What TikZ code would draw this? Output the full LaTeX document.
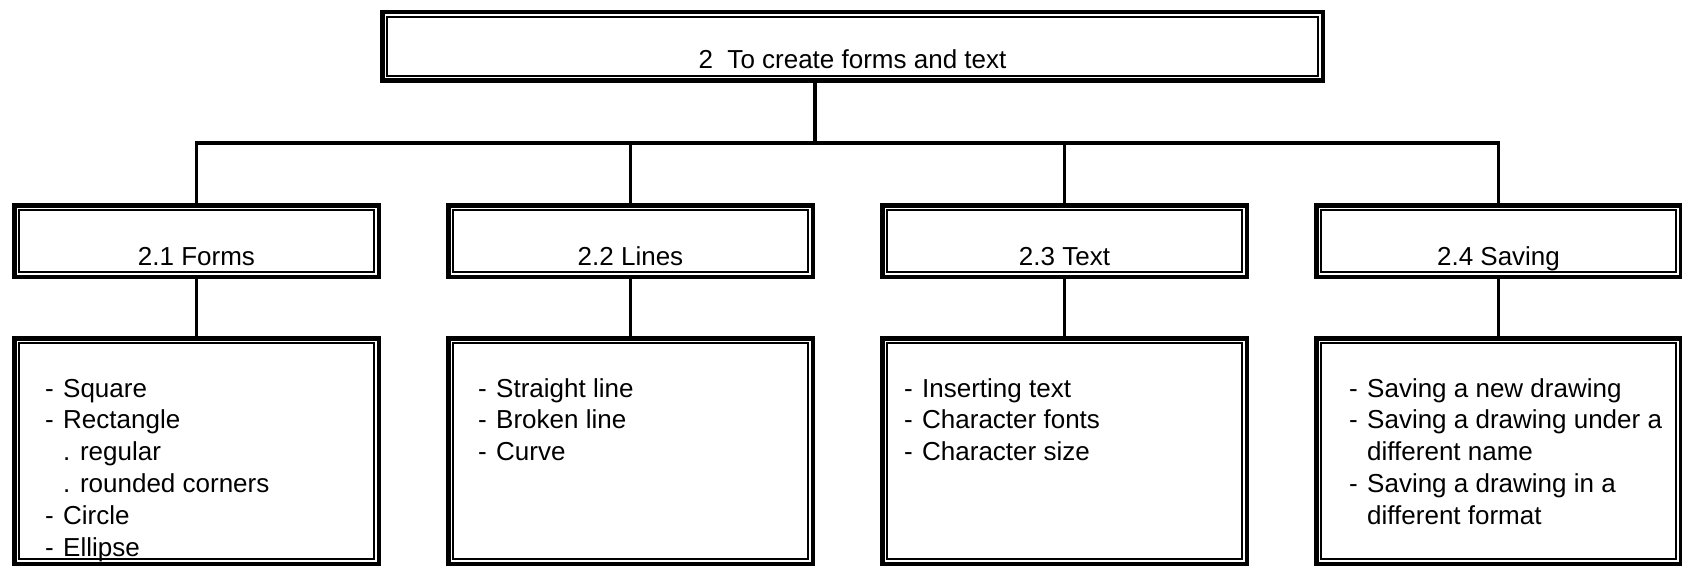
\documentclass[tikz,border=0pt]{standalone}
\usepackage{fontspec}
\setmainfont{Liberation Sans}
\usetikzlibrary{calc}
\newcommand\dashline[1]{\hbox{\makebox[18pt][l]{-}#1}}
\newcommand\contline[1]{\hbox{\kern18pt#1}}
\newcommand\boxlist[1]{\vtop{\baselineskip=31.8pt\lineskiplimit=-20pt\lineskip=0pt #1}}
\tikzset{
  outerframe/.style={draw, line width=4.5pt, inner sep=0pt, outer sep=0pt},
  innerframe/.style={draw, line width=2pt},
  conn/.style={line width=3.2pt, line join=miter},
  lbl/.style={inner sep=0pt, anchor=base, font=\fontsize{26pt}{32pt}\selectfont},
  lst/.style={inner sep=0pt, anchor=base west, font=\fontsize{26pt}{32pt}\selectfont}
}
\newcommand\dframe[5]{%
  \node[outerframe, minimum width={(#4-#2-4.5)*1pt}, minimum height={(#5-#3-4.5)*1pt}] (#1) at ({(#2+#4)/2},{(#3+#5)/2}) {};
  \draw[innerframe] ($(#1.north west)+(4.75,4.75)$) rectangle ($(#1.south east)+(-4.75,-4.75)$);
}
\begin{document}
\begin{tikzpicture}[x=1pt,y=-1pt]
\useasboundingbox (0,0) rectangle (1682,566);
\clip (0,0) rectangle (1682,566);
% frames
\dframe{top}{380}{9.5}{1325}{82.5}
\dframe{fa}{12}{203}{381}{279}
\dframe{fb}{446}{203}{815}{279}
\dframe{fc}{880}{203}{1249}{279}
\dframe{fd}{1314}{203}{1683}{279}
\dframe{la}{12}{336}{381}{566}
\dframe{lb}{446}{336}{815}{566}
\dframe{lc}{880}{336}{1249}{566}
\dframe{ld}{1314}{336}{1683}{566}
% connectors
\coordinate (bus) at (815,143);
\draw[conn] (bus |- top.south) -- (bus);
\draw[conn] (fa.north) -- (fa.north |- bus) -- (fd.north |- bus) -- (fd.north);
\draw[conn] (fb.north) -- (fb.north |- bus);
\draw[conn] (fc.north) -- (fc.north |- bus);
\draw[conn] (fa.south) -- (la.north);
\draw[conn] (fb.south) -- (lb.north);
\draw[conn] (fc.south) -- (lc.north);
\draw[conn] (fd.south) -- (ld.north);
% labels
\node[lbl] (ttop) at (top.center |- 0,68.5) {2\ \ To create forms and text};
\node[lbl] (ta) at (fa.center |- 0,265) {2.1 Forms};
\node[lbl] (tb) at (fb.center |- 0,265) {2.2 Lines};
\node[lbl] (tc) at (fc.center |- 0,265) {2.3 Text};
\node[lbl] (td) at (fd.center |- 0,265) {2.4 Saving};
% lists
\node[lst] (xa) at (45,397) {\boxlist{\dashline{Square}\dashline{Rectangle}\contline{. regular}\contline{. rounded corners}\dashline{Circle}\dashline{Ellipse}}};
\node[lst] (xb) at (478,397) {\boxlist{\dashline{Straight line}\dashline{Broken line}\dashline{Curve}}};
\node[lst] (xc) at (904,397) {\boxlist{\dashline{Inserting text}\dashline{Character fonts}\dashline{Character size}}};
\node[lst] (xd) at (1349,397) {\boxlist{\dashline{Saving a new drawing}\dashline{Saving a drawing under a}\contline{different name}\dashline{Saving a drawing in a}\contline{different format}}};
\end{tikzpicture}
\end{document}
